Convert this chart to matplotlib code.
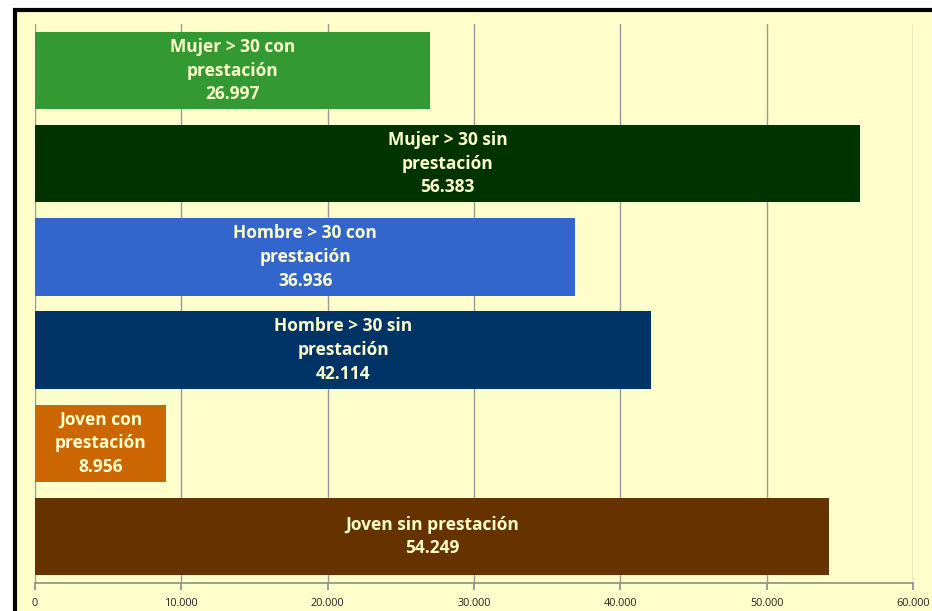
import matplotlib
matplotlib.use("Agg")
import matplotlib.pyplot as plt
from matplotlib.patches import Rectangle
from matplotlib.ticker import FuncFormatter

categories = ["Joven sin prestación", "Joven con\nprestación", "Hombre > 30 sin\nprestación",
              "Hombre > 30 con\nprestación", "Mujer > 30 sin\nprestación", "Mujer > 30 con\nprestación"]
values = [54249, 8956, 42114, 36936, 56383, 26997]
colors = ["#663300", "#CC6600", "#003366", "#3366CC", "#003300", "#339933"]
xticks = [0, 10000, 20000, 30000, 40000, 50000, 60000]

W, H = 932, 611
fig = plt.figure(figsize=(W/100, H/100), dpi=100, facecolor="white")
bg = "#FFFFCC"
fig.patches.append(Rectangle((14.5/W, -0.1), 1.0, (H-9.5)/H + 0.1, transform=fig.transFigure,
                             facecolor=bg, edgecolor="black", linewidth=3, zorder=-5))

ax = fig.add_axes([35/W, 1-583/H, (913-35)/W, (583-24)/H])
ax.set_zorder(5)
ax.patch.set_alpha(0)
y = list(range(len(values)))
ax.barh(y, values, height=0.83, color=colors, zorder=2)
ax.set_xlim(0, 60000)
ax.set_ylim(-0.5, len(values)-0.5)
ax.set_xticks(xticks)
ax.xaxis.set_major_formatter(FuncFormatter(lambda v, p: "0" if v == 0 else f"{int(v):,}".replace(",", ".")))
ax.set_yticks([])
ax.grid(axis="x", color="#999999", linewidth=1.0, zorder=1)
ax.set_axisbelow(True)
for s in ["top", "right", "left"]:
    ax.spines[s].set_visible(False)
ax.spines["bottom"].set_color("#8C8C8C")
ax.spines["bottom"].set_linewidth(1.2)
ax.tick_params(axis="x", direction="out", length=5, color="#8C8C8C", width=1.2,
               labelsize=7.8, labelcolor="#222222", pad=6)
for lab in ax.get_xticklabels():
    lab.set_fontfamily("Open Sans")

for yi, v, c in zip(y, values, categories):
    txt = c + "\n" + f"{v:,}".replace(",", ".")
    ax.text(v/2, yi, txt, ha="center", va="center", color="#FFFFCC", fontsize=12.5,
            fontweight="bold", fontfamily="Open Sans", linespacing=1.4, zorder=3)

fig.savefig("out.png", dpi=100, facecolor="white")
